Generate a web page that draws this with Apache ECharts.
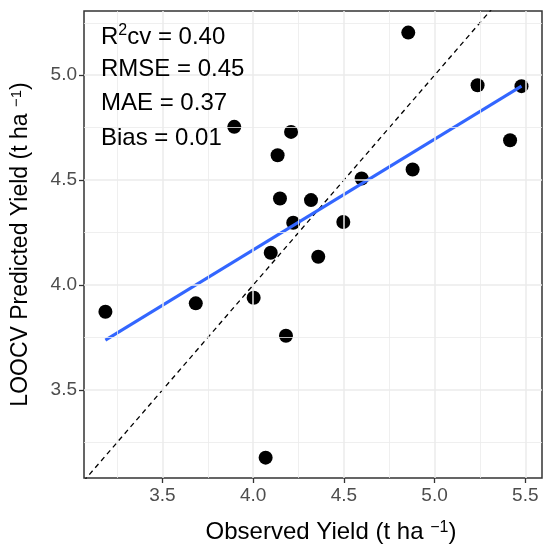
<!DOCTYPE html>
<html>
<head>
<meta charset="UTF-8">
<title>LOOCV Predicted vs Observed Yield</title>
<script src="https://cdn.jsdelivr.net/npm/echarts@6/dist/echarts.min.js"></script>
<style>
  html, body { margin: 0; padding: 0; background: #fff; }
  #main { width: 550px; height: 549px; }
</style>
</head>
<body>
<div id="main"></div>
<script>
// observed (x) and LOOCV predicted (y) yield
var observed  = [3.186, 3.684, 4.003, 4.069, 3.896, 4.135, 4.209, 4.148, 4.319, 4.221,
                 4.497, 4.359, 4.097, 4.181, 4.598, 4.855, 4.879, 5.237, 5.479, 5.416];
var predicted = [3.873, 3.913, 3.940, 3.178, 4.754, 4.619, 4.730, 4.413, 4.405, 4.297,
                 4.301, 4.135, 4.154, 3.759, 4.508, 5.203, 4.551, 4.952, 4.948, 4.690];

// end points of the fitted line and of the 1:1 line
var fitLine  = [[3.186, 3.738], [5.479, 4.948]];
var oneToOne = [[3.0, 3.0], [5.7, 5.7]];

var xRange = [3.068, 5.592];
var yRange = [3.081, 5.306];
var xMajor = [3.5, 4.0, 4.5, 5.0, 5.5];
var xMinor = [3.25, 3.75, 4.25, 4.75, 5.25];
var yMajor = [3.5, 4.0, 4.5, 5.0];
var yMinor = [3.25, 3.75, 4.25, 4.75, 5.25];

// annotation lines: [before superscript, superscript, after]
var stats = [['R', '2', 'cv = 0.40'], ['RMSE = 0.45', '', ''], ['MAE = 0.37', '', ''], ['Bias = 0.01', '', '']];

var FONT = '"Liberation Sans", Arial, sans-serif';

var points = observed.map(function (x, i) { return [x, predicted[i]]; });

function gridLines(vals, key, width) {
    return vals.map(function (v) {
        var d = {};
        d[key] = v;
        d.lineStyle = { color: '#EBEBEB', width: width, type: 'solid' };
        return d;
    });
}

var option = {
    animation: false,
    grid: {
        left: 84, right: 8, top: 11, bottom: 71,
        show: true, borderColor: '#333333', borderWidth: 1.5,
        backgroundColor: '#fff'
    },
    xAxis: {
        type: 'value',
        min: xRange[0], max: xRange[1],
        name: 'Observed Yield (t ha {sup|\u22121})',
        nameLocation: 'middle',
        nameGap: 42,
        nameTextStyle: {
            fontFamily: FONT, fontSize: 24, color: '#000', padding: [0, 0, 0, 36],
            rich: { sup: { fontFamily: FONT, fontSize: 16, color: '#000', verticalAlign: 'top' } }
        },
        axisLine: { show: false },
        axisTick: { show: true, length: 5, customValues: xMajor, lineStyle: { color: '#333', width: 1.3 } },
        axisLabel: {
            customValues: xMajor, margin: 8,
            fontFamily: FONT, fontSize: 19, color: '#4D4D4D',
            formatter: function (v) { return v.toFixed(1); }
        },
        splitLine: { show: false }
    },
    yAxis: {
        type: 'value',
        min: yRange[0], max: yRange[1],
        name: 'LOOCV Predicted Yield (t ha {sup|\u22121})',
        nameLocation: 'middle',
        nameGap: 52,
        nameTextStyle: {
            fontFamily: FONT, fontSize: 23, color: '#000',
            rich: { sup: { fontFamily: FONT, fontSize: 15, color: '#000', verticalAlign: 'top' } }
        },
        axisLine: { show: false },
        axisTick: { show: true, length: 5, customValues: yMajor, lineStyle: { color: '#333', width: 1.3 } },
        axisLabel: {
            customValues: yMajor, margin: 7,
            fontFamily: FONT, fontSize: 19, color: '#4D4D4D',
            formatter: function (v) { return v.toFixed(1); }
        },
        splitLine: { show: false }
    },
    graphic: stats.map(function (s, i) {
        var txt = '{n|' + s[0] + '}' + (s[1] ? '{s|' + s[1] + '}' : '') + (s[2] ? '{n|' + s[2] + '}' : '');
        return {
            type: 'text', left: 101, top: 23 + i * 34.3, z: 50,
            style: {
                text: txt, fill: '#000',
                rich: {
                    n: { fontFamily: FONT, fontSize: 24, color: '#000', lineHeight: 28 },
                    s: { fontFamily: FONT, fontSize: 16, color: '#000', verticalAlign: 'top', lineHeight: 28 }
                }
            }
        };
    }),
    series: [
        {
            // background grid
            type: 'scatter', data: [], z: 1, silent: true,
            markLine: {
                silent: true, symbol: 'none', label: { show: false }, animation: false,
                data: [].concat(
                    gridLines(xMinor, 'xAxis', 0.8),
                    gridLines(yMinor, 'yAxis', 0.8),
                    gridLines(xMajor, 'xAxis', 1.5),
                    gridLines(yMajor, 'yAxis', 1.5)
                )
            }
        },
        {
            type: 'line', data: oneToOne, z: 2, symbol: 'none', silent: true,
            lineStyle: { color: '#000', width: 1.3, type: [5, 4] }
        },
        {
            type: 'scatter', data: points, z: 3, symbolSize: 14,
            itemStyle: { color: '#000', opacity: 1 }
        },
        {
            type: 'line', data: fitLine, z: 4, symbol: 'none', silent: true,
            lineStyle: { color: '#3366FF', width: 3 }
        }
    ]
};

var myChart = echarts.init(document.getElementById('main'));
myChart.setOption(option);
</script>
</body>
</html>
